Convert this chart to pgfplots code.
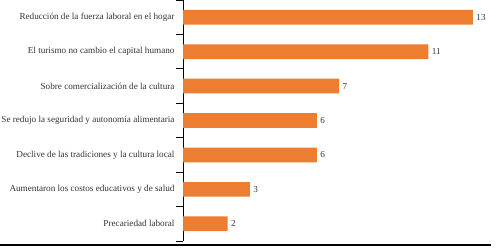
\documentclass[border=0pt]{standalone}
\usepackage{fontspec}
\setmainfont{Liberation Serif}
\usepackage{pgfplots}
\pgfplotsset{compat=1.18}
\definecolor{barorange}{HTML}{ED7D31}
\definecolor{txt}{HTML}{333333}
\begin{document}
\begin{tikzpicture}[x=1bp,y=1bp]
\useasboundingbox (0,0) rectangle (498,251);
\begin{axis}[
  at={(183bp,10bp)}, anchor=south west,
  scale only axis, width=312.2bp, height=241bp,
  xbar, bar width=14.7bp,
  xmin=0, xmax=14,
  ymin=-0.5, ymax=6.5, y dir=reverse,
  axis lines=left,
  x axis line style={draw=none},
  y axis line style={line width=1pt, black, -},
  xtick=\empty,
  ytick={-0.5,0.5,...,6.5},
  yticklabels={},
  ytick style={draw=black, line width=1pt},
  tick align=outside,
  major tick length=7bp,
  extra y ticks={0,1,2,3,4,5,6},
  extra y tick labels={Reducción de la fuerza laboral en el hogar,
    El turismo no cambio el capital humano,
    Sobre comercialización de la cultura,
    Se redujo la seguridad y autonomía alimentaria,
    Declive de las tradiciones y la cultura local,
    Aumentaron los costos educativos y de salud,
    Precariedad laboral},
  extra y tick style={ytick style={draw=none},
    yticklabel style={font=\fontsize{9.2}{10}\selectfont, text=txt, xshift=2bp}},
  nodes near coords,
  nodes near coords style={font=\fontsize{9.2}{10}\selectfont, text=txt},
  /pgf/number format/assume math mode=true,
  clip=false,
]
\addplot[fill=barorange, draw=none] coordinates {
  (13,0) (11,1) (7,2) (6,3) (6,4) (3,5) (2,6)};
\end{axis}
\draw[line width=1.3bp, black] (0,6) -- (491,6);
\end{tikzpicture}
\end{document}
